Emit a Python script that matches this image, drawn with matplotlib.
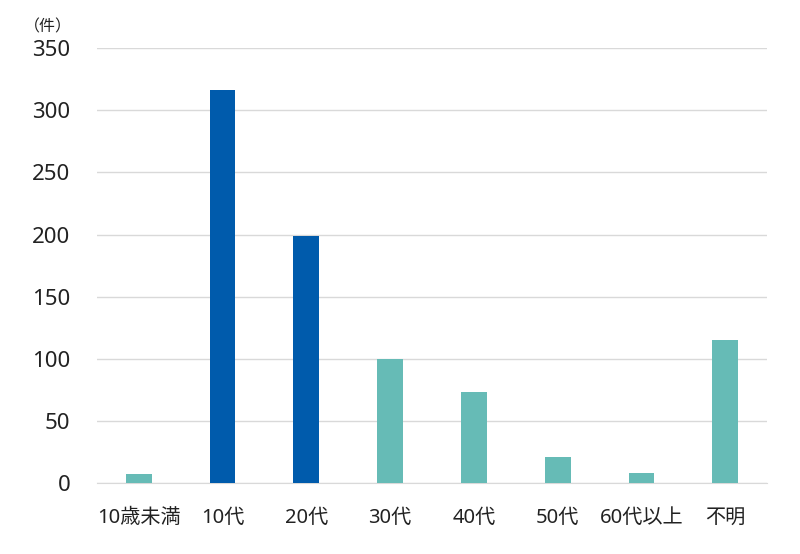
import matplotlib
matplotlib.use("Agg")
import matplotlib.pyplot as plt
import numpy as np

plt.rcParams['font.family'] = ['Noto Sans', 'Noto Sans CJK JP', 'DejaVu Sans']

# Data
categories = ["10歳未満", "10代", "20代", "30代", "40代", "50代", "60代以上", "不明"]
counts = [7, 316, 199, 100, 73, 21, 8, 115]
highlight = [False, True, True, False, False, False, False, False]
yticks = [0, 50, 100, 150, 200, 250, 300, 350]

blue = '#005BAC'
teal = '#66BBB6'

fig = plt.figure(figsize=(8, 5.54), dpi=100)
ax = fig.add_axes([0.121, 0.128, 0.838, 0.785])

x = np.arange(len(categories))
colors = [blue if h else teal for h in highlight]
ax.bar(x, counts, width=0.31, color=colors, zorder=3)

ax.set_xlim(-0.5, len(categories) - 0.5)
ax.set_ylim(0, 350)
ax.set_yticks(yticks)
ax.set_yticklabels([str(v) for v in yticks], fontsize=16, color='#222222')
ax.set_xticks(x)
ax.set_xticklabels(categories, fontsize=14.5, color='#222222')

ax.grid(axis='y', color='#d9d9d9', linewidth=1, zorder=0)
for s in ['top', 'right', 'left']:
    ax.spines[s].set_visible(False)
ax.spines['bottom'].set_color('#d9d9d9')
ax.tick_params(axis='both', length=0)
ax.tick_params(axis='y', pad=19)
ax.tick_params(axis='x', pad=18)

fig.text(0.030, 0.950, "（件）", fontsize=11.5, color='#222222', ha='left', va='center')

fig.savefig("out.png", dpi=100)
